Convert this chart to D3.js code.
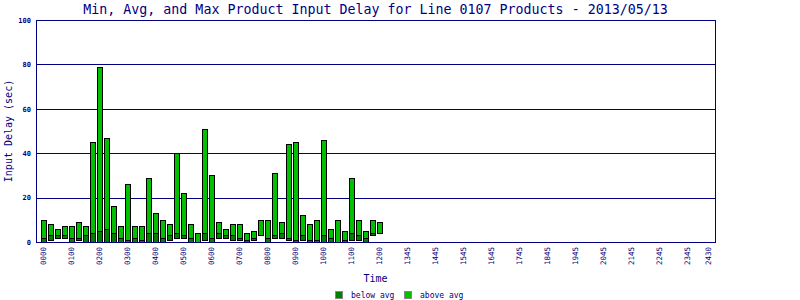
<!DOCTYPE html>
<html>
<head>
<meta charset="utf-8">
<script src="https://cdn.jsdelivr.net/npm/d3@7"></script>
<style>
  body { margin: 0; background: #fff; }
  svg { display: block; font-family: "DejaVu Sans Mono", "Liberation Mono", monospace; }
</style>
</head>
<body>
<div id="chart"></div>
<script>
// 15 minute slots for the whole day
const slots = [
  "0000","0015","0030","0045","0100","0115","0130","0145",
  "0200","0215","0230","0245","0300","0315","0330","0345",
  "0400","0415","0430","0445","0500","0515","0530","0545",
  "0600","0615","0630","0645","0700","0715","0730","0745",
  "0800","0815","0830","0845","0900","0915","0930","0945",
  "1000","1015","1030","1045","1100","1115","1130","1145",
  "1200","1215","1230","1245","1300","1315","1330","1345",
  "1400","1415","1430","1445","1500","1515","1530","1545",
  "1600","1615","1630","1645","1700","1715","1730","1745",
  "1800","1815","1830","1845","1900","1915","1930","1945",
  "2000","2015","2030","2045","2100","2115","2130","2145",
  "2200","2215","2230","2245","2300","2315","2330","2345"
];

// min / avg / max delay (sec) for the slots that have data (0000 .. 1200)
const minDelay = [0,1,2,2,0,1,0,0, 0,0,0,0,0,0,0,0, 0,0,1,2,2,0,0,1,
                  0,2,2,1,1,0,1,3, 0,2,2,1,0,1,0,0, 0,0,0,0,1,1,0,3, 4];
const avgDelay = [2,3,3,3,2,2,3,4, 5,6,4,2,1,2,1,4, 4,2,3,4,3,2,0,4,
                  2,4,3,3,2,1,2,3, 2,3,4,2,1,3,1,1, 3,2,0,1,4,3,2,4, 4];
const maxDelay = [10,8,6,7,7,9,7,45, 79,47,16,7,26,7,7,29, 13,10,8,40,22,8,4,51,
                  30,9,6,8,8,4,5,10, 10,31,9,44,45,12,8,10, 46,6,10,5,29,10,5,10, 9];

// x axis labels as printed on the reference
const tickSlots  = ["0000","0100","0200","0300","0400","0500","0600","0700","0800","0900","1000","1100","1200",
                    "1300","1400","1500","1600","1700","1800","1900","2000","2100","2200","2300","2345"];
const tickLabels = ["0000","0100","0200","0300","0400","0500","0600","0700","0800","0900","1000","1100","1200",
                    "1345","1445","1545","1645","1745","1845","1945","2045","2145","2245","2345","2430"];

const yTicks = [0, 20, 40, 60, 80, 100];

const navy = "#000080";
const belowColor = "#008000";
const aboveColor = "#00c000";

const width = 800, height = 300;
const plot = { left: 36, right: 715, top: 20, bottom: 242 };

const data = minDelay.map((m, i) => ({
  slot: slots[i], min: m, avg: avgDelay[i], max: maxDelay[i]
}));

const svg = d3.select("#chart").append("svg")
  .attr("width", width).attr("height", height);

const x = d3.scaleBand()
  .domain(slots)
  .range([plot.left, plot.right])
  .paddingInner(0.2)
  .paddingOuter(0.6);

const y = d3.scaleLinear().domain([0, 100]).range([plot.bottom, plot.top]);
const py = (v) => Math.round(y(v)) + 0.5;

// title
svg.append("text")
  .attr("x", (plot.left + plot.right) / 2)
  .attr("y", 14)
  .attr("text-anchor", "middle")
  .attr("fill", navy)
  .style("font-size", "13.3px")
  .text("Min, Avg, and Max Product Input Delay for Line 0107 Products - 2013/05/13");

// gridlines
svg.append("g")
  .selectAll("line")
  .data(yTicks.filter((t) => t > 0 && t < 100))
  .join("line")
  .attr("x1", plot.left).attr("x2", plot.right)
  .attr("y1", (d) => py(d)).attr("y2", (d) => py(d))
  .attr("stroke", navy).attr("stroke-width", 1);

// y axis labels
const yAxis = d3.axisLeft(y).tickValues(yTicks).tickSize(0).tickPadding(5);
svg.append("g")
  .attr("transform", `translate(${plot.left},0)`)
  .call(yAxis)
  .call((g) => g.select(".domain").remove())
  .call((g) => g.selectAll("text")
    .attr("fill", navy)
    .style("font-size", "7px")
    .style("font-weight", "bold")
    .style("font-family", "DejaVu Sans Mono"));

// bars: dark segment min->avg, light segment avg->max
const bx = (d) => Math.floor(x(d.slot)) + 1.5;
const bw = Math.round(x.bandwidth()) - 1;

const bars = svg.append("g");
bars.selectAll(".above")
  .data(data.filter((d) => d.max > d.avg))
  .join("rect")
  .attr("class", "above")
  .attr("x", bx)
  .attr("width", bw)
  .attr("y", (d) => py(d.max))
  .attr("height", (d) => py(d.avg) - py(d.max))
  .attr("fill", aboveColor)
  .attr("stroke", "#000").attr("stroke-width", 1);

bars.selectAll(".below")
  .data(data.filter((d) => d.avg > d.min))
  .join("rect")
  .attr("class", "below")
  .attr("x", bx)
  .attr("width", bw)
  .attr("y", (d) => py(d.avg))
  .attr("height", (d) => py(d.min) - py(d.avg))
  .attr("fill", belowColor)
  .attr("stroke", "#000").attr("stroke-width", 1);

// frame
svg.append("rect")
  .attr("x", plot.left + 0.5).attr("y", plot.top + 0.5)
  .attr("width", plot.right - plot.left).attr("height", plot.bottom - plot.top)
  .attr("fill", "none").attr("stroke", navy).attr("stroke-width", 1);

// x axis labels
const labelFor = new Map(tickSlots.map((s, i) => [s, tickLabels[i]]));
const xAxis = d3.axisBottom(x).tickValues(tickSlots).tickFormat((s) => labelFor.get(s)).tickSize(0);
svg.append("g")
  .attr("transform", `translate(0,${plot.bottom})`)
  .call(xAxis)
  .call((g) => g.select(".domain").remove())
  .call((g) => g.selectAll("text")
    .attr("transform", "rotate(-90)")
    .attr("x", -5).attr("y", 0).attr("dy", "0.35em")
    .attr("text-anchor", "end")
    .attr("fill", navy)
    .style("font-size", "7.5px")
    .style("font-family", "DejaVu Sans Mono"));

// axis titles
svg.append("text")
  .attr("x", (plot.left + plot.right) / 2)
  .attr("y", 282)
  .attr("text-anchor", "middle")
  .attr("fill", navy)
  .style("font-size", "10px")
  .text("Time");

svg.append("text")
  .attr("transform", `translate(12,${(plot.top + plot.bottom) / 2}) rotate(-90)`)
  .attr("text-anchor", "middle")
  .attr("fill", navy)
  .style("font-size", "10px")
  .text("Input Delay (sec)");

// legend
const legendItems = [
  { label: "below avg", color: belowColor, x: 335 },
  { label: "above avg", color: aboveColor, x: 404 }
];
const legend = svg.append("g").selectAll("g")
  .data(legendItems)
  .join("g")
  .attr("transform", (d) => `translate(${d.x},291)`);
legend.append("rect")
  .attr("x", 0.5).attr("y", 0.5)
  .attr("width", 7).attr("height", 7)
  .attr("fill", (d) => d.color)
  .attr("stroke", "#888").attr("stroke-width", 1);
legend.append("text")
  .attr("x", 16).attr("y", 7)
  .attr("fill", navy)
  .style("font-size", "8px")
  .text((d) => d.label);
</script>
</body>
</html>
